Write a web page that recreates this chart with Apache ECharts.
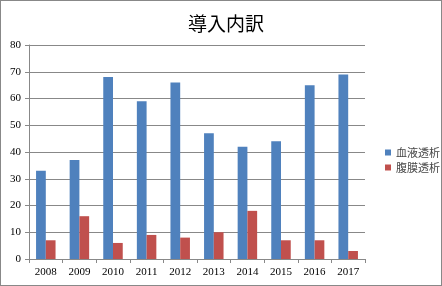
<!DOCTYPE html>
<html><head><meta charset="utf-8">
<script src="https://cdn.jsdelivr.net/npm/echarts@6/dist/echarts.min.js"></script>
<style>html,body{margin:0;padding:0;background:#fff}#c{width:440px;height:284px;border:1px solid #888}</style>
</head><body><div id="c"></div>
<script>
const categories = ['2008','2009','2010','2011','2012','2013','2014','2015','2016','2017'];
const hemodialysis = [33,37,68,59,66,47,42,44,65,69];
const peritoneal = [7,16,6,9,8,10,18,7,7,3];
const seriesNames = ['血液透析','腹膜透析'];
const chart = echarts.init(document.getElementById('c'));
chart.setOption({
  animation:false,
  title:{text:'導入内訳',left:220,top:8,textAlign:'center',textStyle:{fontFamily:'Noto Sans CJK JP',fontWeight:'normal',fontSize:19,color:'#000'}},
  legend:{orient:'vertical',left:379,top:141,itemWidth:6,itemHeight:6,itemGap:4,icon:'rect',
    textStyle:{fontFamily:'Noto Sans CJK JP',fontSize:11,color:'#444'},data:seriesNames},
  grid:{left:28,top:44,width:336,height:214,containLabel:false},
  xAxis:{type:'category',data:categories,
    axisLine:{lineStyle:{color:'#888'}},
    axisTick:{show:true,length:4,lineStyle:{color:'#888'}},
    axisLabel:{fontFamily:'Liberation Serif',fontSize:11,color:'#000',margin:8}},
  yAxis:{type:'value',min:0,max:80,interval:10,
    axisLine:{show:true,lineStyle:{color:'#888'}},
    axisTick:{show:true,length:4,inside:false,lineStyle:{color:'#888'}},
    splitLine:{lineStyle:{color:'#888'}},
    axisLabel:{fontFamily:'Liberation Serif',fontSize:11,color:'#000',margin:8}},
  series:[
    {name:seriesNames[0],type:'bar',data:hemodialysis,barGap:'0%',barCategoryGap:'42%',itemStyle:{color:'#4f81bd'}},
    {name:seriesNames[1],type:'bar',data:peritoneal,itemStyle:{color:'#c0504d'}}
  ]
});
</script></body></html>
